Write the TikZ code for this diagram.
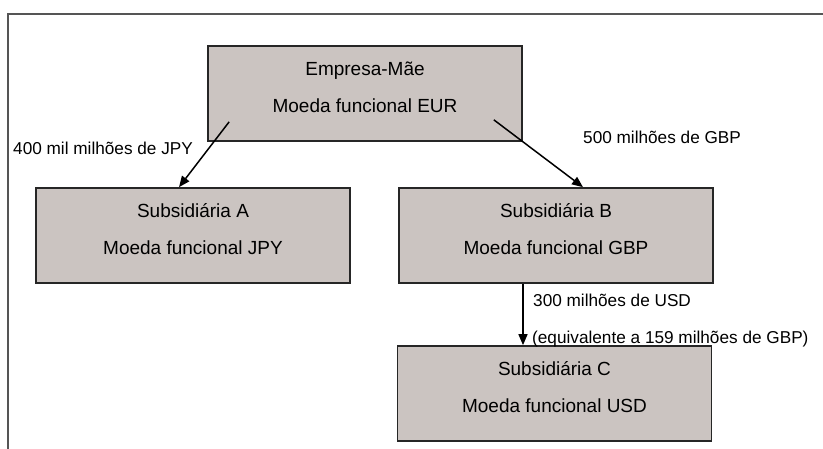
\documentclass[tikz,border=0pt]{standalone}
\usepackage{fontspec}
\setmainfont{Liberation Sans}
\usepackage{tikz}
\usetikzlibrary{arrows.meta, positioning}
\usepackage{xcolor}

\definecolor{boxgrey}{RGB}{203,196,193}
\definecolor{framegrey}{RGB}{85,85,85}

% deep invisible strut, lifts the two lines a little inside the box
\newcommand{\liftstrut}{\rule[-12pt]{0pt}{12pt}}

\tikzset{
    entity/.style={draw=black!85, line width=1.7pt, fill=boxgrey,
        minimum width=314pt, minimum height=95pt, inner sep=0pt,
        align=center, font=\fontsize{19}{22}\selectfont},
    amount/.style={anchor=base west, inner sep=0pt,
        font=\fontsize{17.2}{20}\selectfont},
    flow/.style={-{Triangle[length=11pt,width=9pt]}, line width=1.5pt}
}

\begin{document}
\begin{tikzpicture}[x=1pt, y=-1pt]
            \useasboundingbox (0,0) rectangle (823,449);

            \draw[framegrey, line width=1.6pt] (8,449) -- (8,14) -- (823,14);

            \node[entity] (mae)  at (365,93.5)   {Empresa-Mãe\\[15pt]Moeda funcional EUR\liftstrut};
            \node[entity] (subA) at (193,235.5)  {Subsidiária A\\[15pt]Moeda funcional JPY\liftstrut};
            \node[entity] (subB) at (556,235.5)  {Subsidiária B\\[15pt]Moeda funcional GBP\liftstrut};
            \node[entity] (subC) at (554.5,393.5) {Subsidiária C\\[15pt]Moeda funcional USD\liftstrut};

            \node[amount] (jpy) at (13,155)  {400 mil milhões de JPY};
            \node[amount] (gbp) at (583,144) {500 milhões de GBP};
            \node[amount] (usd) at (533,307) {300 milhões de USD};
            \node[amount] (equiv) at (532,344) {(equivalente a 159 milhões de GBP)};

            \draw[flow] ([shift={(22,-20)}]mae.south west) -- ([xshift=-14pt]subA.north);
            \draw[flow] ([shift={(-29,-22)}]mae.south east) -- ([xshift=27pt]subB.north);
            \draw[flow] ([xshift=-33pt]subB.south) -- ([xshift=-31.5pt]subC.north);
        \end{tikzpicture}
\end{document}
